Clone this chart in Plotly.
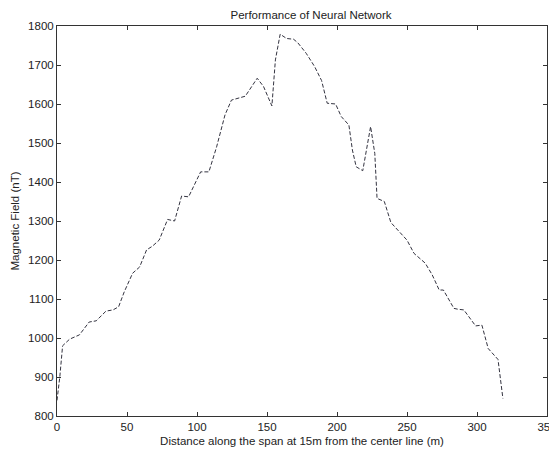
import plotly.graph_objects as go

distance = [0, 2, 4, 9, 16, 23, 28, 35, 40, 44, 48, 54, 59, 64, 68, 73, 79, 84, 89, 94,
            102.6, 108.5, 114, 120, 124.6, 130, 134.5, 143, 147.5, 153.5, 156, 159.4, 164,
            169, 172, 178, 184, 189, 193, 199, 203, 208.5, 211, 213.7, 218.4, 224, 227,
            228.6, 233.8, 238.5, 245.6, 250, 255, 263, 268, 273, 276, 283.5, 286, 290.6,
            299, 303.5, 308, 313, 315, 318.5]
field = [840, 900, 980, 997, 1008, 1041, 1044, 1069, 1072, 1080, 1118, 1166, 1182, 1226,
         1235, 1251, 1304, 1300, 1364, 1362, 1426, 1426, 1490, 1572, 1610, 1615, 1620, 1666,
         1645, 1595, 1713, 1779, 1768, 1766, 1757, 1730, 1696, 1660, 1602, 1600, 1568,
         1546, 1482, 1439, 1429, 1542, 1473, 1358, 1350, 1296, 1268, 1251, 1217, 1192,
         1162, 1123, 1123, 1076, 1074, 1072, 1031, 1033, 973, 952, 945, 845]

x_ticks = [0, 50, 100, 150, 200, 250, 300, 350]
y_ticks = [800, 900, 1000, 1100, 1200, 1300, 1400, 1500, 1600, 1700, 1800]

fig = go.Figure()
fig.add_trace(go.Scatter(x=distance, y=field, mode="lines",
                         line=dict(color="#333340", width=1, dash="4px,2px"),
                         showlegend=False))

font = dict(family="Liberation Sans, Arial, sans-serif", size=11.5, color="#222")
axis_common = dict(showline=True, linecolor="#333", linewidth=1, mirror="ticks",
                   ticks="inside", ticklen=4, tickcolor="#333", showgrid=False,
                   zeroline=False, tickfont=font, ticklabeloverflow="allow",
                   automargin=False)

fig.update_layout(
    width=549, height=441,
    margin=dict(l=49, r=10, t=18, b=33, autoexpand=False),
    paper_bgcolor="white", plot_bgcolor="white",
    title=dict(text="Performance of Neural Network", x=0.552, xanchor="center",
               y=0.984, yanchor="middle", font=font, automargin=False),
    xaxis=dict(range=[0, 350.0001], tickvals=x_ticks,
               title=dict(text="Distance along the span at 15m from the center line (m)",
                          font=font, standoff=5), **axis_common),
    yaxis=dict(range=[800, 1800], tickvals=y_ticks,
               title=dict(text="Magnetic Field (nT)", font=font, standoff=6),
               **axis_common),
)

fig.write_html("out.html")
